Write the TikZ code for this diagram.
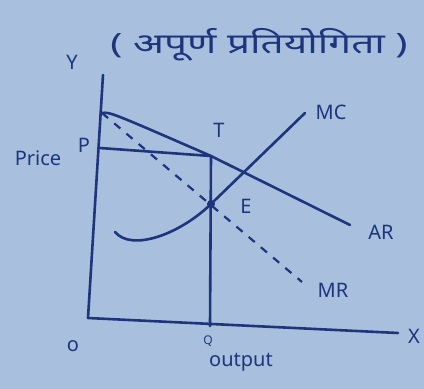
\documentclass[tikz,border=0pt]{standalone}
\usepackage{fontspec}
\setmainfont{Noto Sans}
\newfontfamily\devfont[Script=Devanagari]{Noto Sans}
\begin{document}
\begin{tikzpicture}[x=1pt,y=-1pt,
  ink/.style={draw=inkc,line width=2.6pt,line cap=round,line join=round},
  dashink/.style={draw=inkc,line width=2.2pt,dash pattern=on 8pt off 8pt},
  lbl/.style={text=inkc,font=\fontsize{20}{20}\selectfont,inner sep=0pt}]
\definecolor{bgc}{RGB}{168,192,221}
\definecolor{inkc}{RGB}{30,52,125}
\fill[bgc] (0,0) rectangle (424,389);
\useasboundingbox (0,0) rectangle (424,389);
% axes
\coordinate (Ytop) at (103,75);
\coordinate (O) at (88,318);
\coordinate (Xend) at (398,333);
\draw[ink] (Ytop) -- (O) -- (Xend);
% key points
\coordinate (A) at (102,113);
\coordinate (Pp) at (100,148);
\coordinate (T) at (211,156);
\coordinate (Q) at (210,326);
\coordinate (ARe) at (350,225);
\coordinate (MRe) at (302,282);
\coordinate (MCs) at (115,232);
\coordinate (E) at (211,204);
\coordinate (MCe) at (305,113);
% AR
\draw[ink] (A) .. controls (110,112) .. (T) -- (ARe);
% MR dashed
\draw[dashink] (A) -- (MRe);
% price line and output line
\draw[ink] (Pp) -- (T) -- (Q);
% MC
\draw[ink] (MCs) .. controls (132,252) and (180,234) .. (E) -- (MCe);
\fill[inkc] (E) circle (4pt);
% labels
\node[lbl] (ly) at (72,62) {Y};
\node[lbl] (lp) at (84,145) {P};
\node[lbl] (lprice) at (38,158) {Price};
\node[lbl] (lt) at (219,130) {T};
\node[lbl] (lmc) at (331,112) {MC};
\node[lbl] (le) at (246,206) {E};
\node[lbl] (lar) at (381,232) {AR};
\node[lbl] (lmr) at (333,290) {MR};
\node[lbl] (lo) at (73,346) {o};
\node[lbl,font=\fontsize{12}{12}\selectfont] (lq) at (208,341) {Q};
\node[lbl] (lout) at (241,362) {output};
\node[lbl] (lx) at (414,336) {X};
\node[text=inkc,inner sep=0pt,font=\fontsize{28}{28}\selectfont] (title) at (259,45) {\scalebox{1.45}[1]{( {\devfont अपूर्ण प्रतियोगिता} )}};
\end{tikzpicture}
\end{document}
